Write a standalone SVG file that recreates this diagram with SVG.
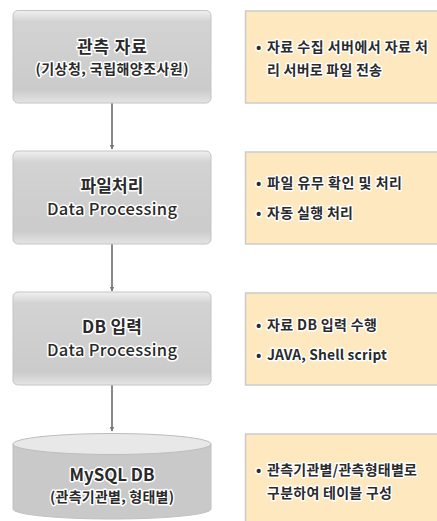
<svg xmlns="http://www.w3.org/2000/svg" width="437" height="521" viewBox="0 0 437 521">
  <defs>
    <linearGradient id="stepFill" x1="0" y1="0" x2="0" y2="1">
      <stop offset="0" stop-color="#f0f0f0"/>
      <stop offset="0.12" stop-color="#d3d3d3"/>
      <stop offset="0.86" stop-color="#cbcbcb"/>
      <stop offset="0.92" stop-color="#d6d6d6"/>
      <stop offset="1" stop-color="#e4e4e4"/>
    </linearGradient>
    <marker id="arrow" viewBox="0 0 10 10" refX="9" refY="5" markerWidth="5" markerHeight="5" orient="auto" markerUnits="userSpaceOnUse">
      <path d="M0,0 L10,5 L0,10 Z" fill="#7a7a7a"/>
    </marker>
  </defs>
  <style>
    .step { fill: url(#stepFill); stroke: #c4c4c4; stroke-width: 1; }
    .note { fill: #fee8bf; stroke: #cccccc; stroke-width: 1.5; }
    .conn { stroke: #8a8a8a; stroke-width: 2; fill: none; }
    text { font-family: "Noto Sans CJK KR", "Noto Sans", sans-serif; fill: #2a2a2a; stroke: #ffffff; stroke-width: 3; stroke-linejoin: round; paint-order: stroke; }
    .title { font-size: 17px; font-weight: bold; text-anchor: middle; }
    .sub { font-size: 14px; font-weight: bold; text-anchor: middle; }
    .en { font-size: 16.5px; font-weight: 500; text-anchor: middle; }
    .item { font-size: 14px; font-weight: bold; }
  </style>

  <!-- notes on the right -->
  <g id="note1">
    <rect class="note" x="245.5" y="11" width="200" height="92"/>
    <text class="item" x="256" y="52">•</text>
    <text class="item" x="267" y="52" textLength="161" lengthAdjust="spacing">자료 수집 서버에서 자료 처</text>
    <text class="item" x="267" y="75" textLength="115" lengthAdjust="spacing">리 서버로 파일 전송</text>
  </g>
  <g id="note2">
    <rect class="note" x="245.5" y="152" width="200" height="92"/>
    <text class="item" x="256" y="188">•</text>
    <text class="item" x="267" y="188" textLength="135" lengthAdjust="spacing">파일 유무 확인 및 처리</text>
    <text class="item" x="256" y="218">•</text>
    <text class="item" x="267" y="218" textLength="86" lengthAdjust="spacing">자동 실행 처리</text>
  </g>
  <g id="note3">
    <rect class="note" x="245.5" y="293" width="200" height="92"/>
    <text class="item" x="256" y="330">•</text>
    <text class="item" x="267" y="330" textLength="110" lengthAdjust="spacing">자료 DB 입력 수행</text>
    <text class="item" x="256" y="360">•</text>
    <text class="item" x="267" y="360" textLength="120" lengthAdjust="spacing">JAVA, Shell script</text>
  </g>
  <g id="note4">
    <rect class="note" x="245.5" y="434" width="200" height="100"/>
    <text class="item" x="256" y="475">•</text>
    <text class="item" x="267" y="475" textLength="150" lengthAdjust="spacing">관측기관별/관측형태별로</text>
    <text class="item" x="267" y="498" textLength="125" lengthAdjust="spacing">구분하여 테이블 구성</text>
  </g>

  <!-- connectors between the steps -->
  <g id="connectors">
    <line class="conn" x1="112" y1="103" x2="112" y2="149" marker-end="url(#arrow)"/>
    <line class="conn" x1="112" y1="244" x2="112" y2="291" marker-end="url(#arrow)"/>
    <line class="conn" x1="112" y1="385" x2="112" y2="431" marker-end="url(#arrow)"/>
  </g>

  <!-- process steps -->
  <g id="step1">
    <rect class="step" x="13" y="10.5" width="198" height="92.5" rx="5"/>
    <text class="title" x="112" y="53" textLength="70" lengthAdjust="spacing">관측 자료</text>
    <text class="sub" x="112" y="74" textLength="153" lengthAdjust="spacing">(기상청, 국립해양조사원)</text>
  </g>
  <g id="step2">
    <rect class="step" x="13" y="151" width="198" height="93" rx="5"/>
    <text class="title" x="112" y="192" textLength="63" lengthAdjust="spacing">파일처리</text>
    <text class="en" x="112" y="215" textLength="130" lengthAdjust="spacing">Data Processing</text>
  </g>
  <g id="step3">
    <rect class="step" x="13" y="292" width="198" height="93" rx="5"/>
    <text class="title" x="112" y="333" textLength="60" lengthAdjust="spacing">DB 입력</text>
    <text class="en" x="112" y="356" textLength="130" lengthAdjust="spacing">Data Processing</text>
  </g>
  <g id="step4">
    <path d="M13,444 L13,509 A99,10 0 0 0 211,509 L211,444 Z" fill="#c9c9c9" stroke="#c0c0c0" stroke-width="1"/>
    <ellipse cx="112" cy="444" rx="99" ry="10.5" fill="#e8e8e8" stroke="#bdbdbd" stroke-width="1"/>
    <text class="title" x="112" y="481" textLength="85" lengthAdjust="spacing">MySQL DB</text>
    <text class="sub" x="112" y="502" textLength="124" lengthAdjust="spacing">(관측기관별, 형태별)</text>
  </g>
</svg>
